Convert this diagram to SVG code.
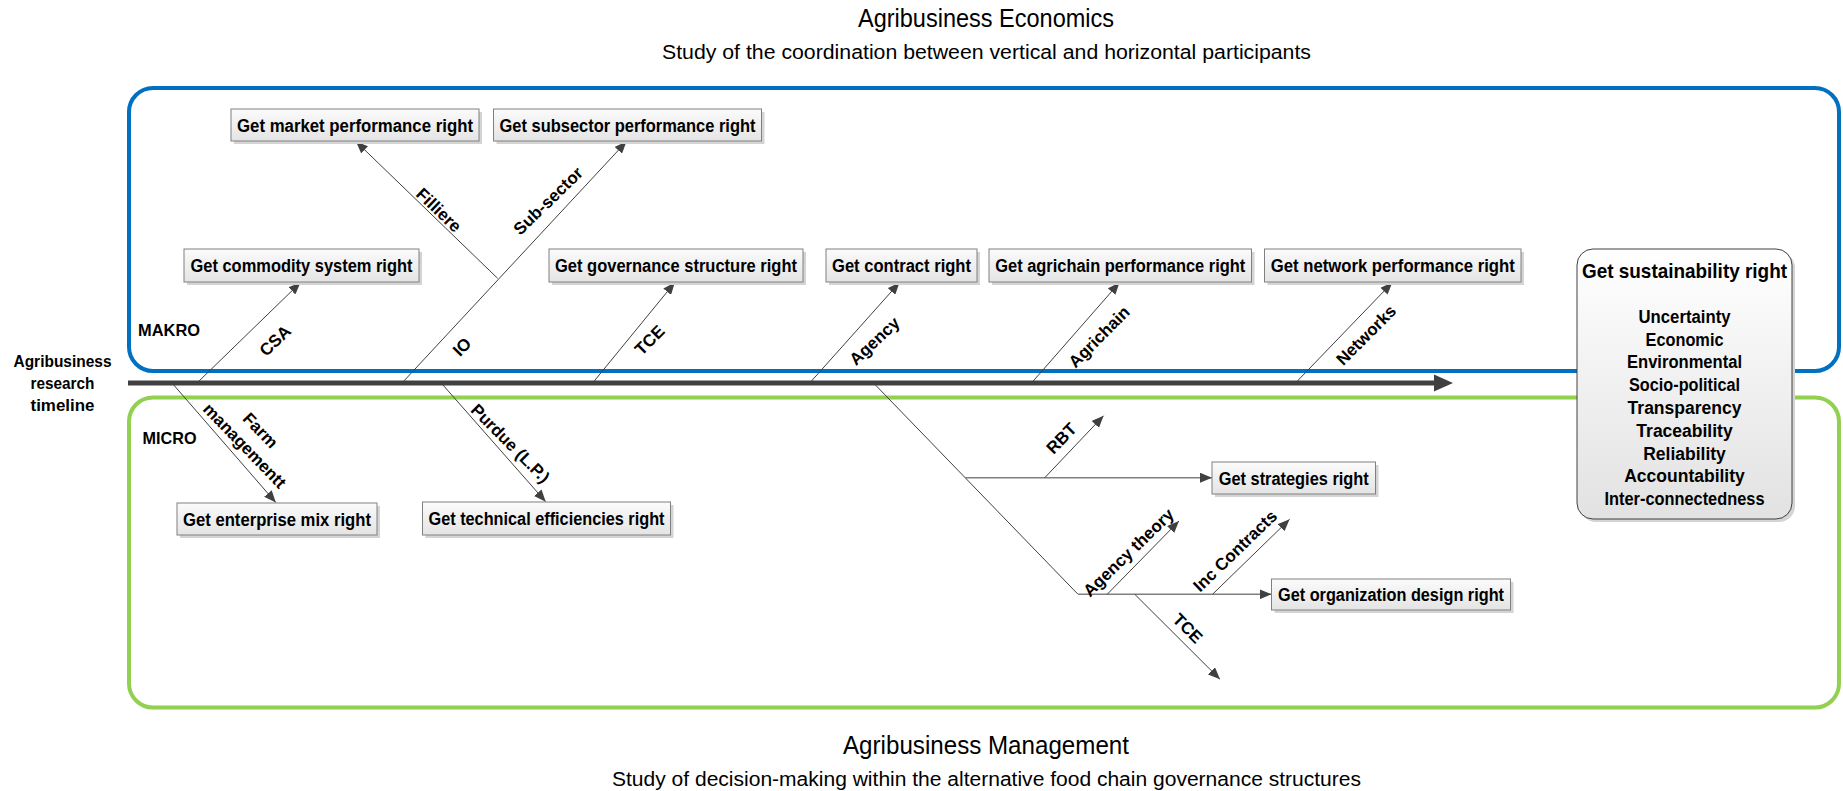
<svg xmlns="http://www.w3.org/2000/svg" width="1843" height="791" viewBox="0 0 1843 791">
<defs>
<linearGradient id="boxg" x1="0" y1="0" x2="0" y2="1"><stop offset="0" stop-color="#fbfbfb"/><stop offset="1" stop-color="#e4e4e4"/></linearGradient>
<linearGradient id="susg" x1="0" y1="0" x2="0" y2="1"><stop offset="0" stop-color="#ffffff"/><stop offset="1" stop-color="#e2e2e2"/></linearGradient>
<marker id="arr" viewBox="0 0 12 10" refX="12" refY="5" markerWidth="12" markerHeight="10" markerUnits="userSpaceOnUse" orient="auto"><path d="M0,0 L12,5 L0,10 z" fill="#404040"/></marker>
<style>
.t{font-family:"Liberation Sans",Arial,sans-serif;fill:#000}
.title{font-size:25px}
.sub{font-size:19.5px}
.nb{font-size:18px;font-weight:bold;text-anchor:middle}
.lb{font-size:17px;font-weight:bold;text-anchor:middle}
.box{fill:url(#boxg);stroke:#808080;stroke-width:1}
.sh{fill:#d4d4d4}
.ln{stroke:#404040;stroke-width:1;fill:none}
.la{stroke:#404040;stroke-width:1;fill:none;marker-end:url(#arr)}
.lg{stroke:#7f7f7f;stroke-width:1.6;fill:none}
.lga{stroke:#7f7f7f;stroke-width:1.6;fill:none;marker-end:url(#arr)}
</style>
</defs>
<rect width="1843" height="791" fill="#ffffff"/>

<g id="titles">
<text class="t title" x="986" y="27" text-anchor="middle" textLength="256" lengthAdjust="spacingAndGlyphs">Agribusiness Economics</text>
<text class="t sub" x="986.5" y="58.5" text-anchor="middle" textLength="649" lengthAdjust="spacingAndGlyphs">Study of the coordination between vertical and horizontal participants</text>
<text class="t title" x="986" y="753.5" text-anchor="middle" textLength="286" lengthAdjust="spacingAndGlyphs">Agribusiness Management</text>
<text class="t sub" x="986.5" y="785.5" text-anchor="middle" textLength="749" lengthAdjust="spacingAndGlyphs">Study of decision-making within the alternative food chain governance structures</text>
</g>

<g id="frames">
<rect id="makro-frame" x="129" y="88" width="1710" height="283" rx="24" fill="none" stroke="#0070c0" stroke-width="4"/>
<rect id="micro-frame" x="129" y="397.5" width="1710" height="310" rx="24" fill="none" stroke="#92d050" stroke-width="4"/>
<text class="t" x="138" y="336" font-size="16.5" font-weight="bold" textLength="62" lengthAdjust="spacingAndGlyphs">MAKRO</text>
<text class="t" x="142.5" y="443.5" font-size="16.5" font-weight="bold" textLength="54" lengthAdjust="spacingAndGlyphs">MICRO</text>
</g>

<g id="timeline-label">
<text class="t" x="62.5" y="366.5" font-size="17" font-weight="bold" text-anchor="middle" textLength="98" lengthAdjust="spacingAndGlyphs">Agribusiness</text>
<text class="t" x="62.5" y="388.5" font-size="17" font-weight="bold" text-anchor="middle" textLength="64" lengthAdjust="spacingAndGlyphs">research</text>
<text class="t" x="62.5" y="410.5" font-size="17" font-weight="bold" text-anchor="middle" textLength="64" lengthAdjust="spacingAndGlyphs">timeline</text>
</g>

<g id="connectors">
<line x1="128" y1="383" x2="1436" y2="383" stroke="#404040" stroke-width="5"/>
<polygon points="1434,374.5 1453,383 1434,391.5" fill="#404040"/>
<line class="la" x1="197" y1="383" x2="300.5" y2="282.5"/>
<line class="la" x1="402" y1="383" x2="626.5" y2="141.5"/>
<line class="la" x1="497.6" y1="278.3" x2="356" y2="141.5"/>
<line class="la" x1="592.6" y1="383" x2="674.8" y2="282.5"/>
<line class="la" x1="809.7" y1="383" x2="899.5" y2="282.5"/>
<line class="la" x1="1031.5" y1="383" x2="1119.5" y2="282.5"/>
<line class="la" x1="1295.5" y1="383" x2="1392.3" y2="282.5"/>
<line class="la" x1="172" y1="383" x2="275.8" y2="502.5"/>
<line class="la" x1="441.2" y1="383" x2="545.7" y2="501.7"/>
<line class="ln" x1="873.5" y1="383" x2="1078" y2="594.3"/>
<line class="lga" x1="965" y1="477.7" x2="1212" y2="477.7"/>
<line class="la" x1="1044.8" y1="477.7" x2="1103.6" y2="415.7"/>
<line class="lga" x1="1078" y1="594.3" x2="1271.5" y2="594.3"/>
<line class="la" x1="1107.2" y1="594.3" x2="1179" y2="521"/>
<line class="la" x1="1212.5" y1="594.3" x2="1289.6" y2="519.3"/>
<line class="la" x1="1134.8" y1="594.3" x2="1220" y2="679.3"/>
<g class="t">
<text class="lb" transform="translate(275,340.5) rotate(-44)" y="6">CSA</text>
<text class="lb" transform="translate(462,346.7) rotate(-46)" y="6">IO</text>
<text class="lb" transform="translate(439,210) rotate(44)" y="6">Filliere</text>
<text class="lb" transform="translate(548,200.8) rotate(-44)" y="6">Sub-sector</text>
<text class="lb" transform="translate(649.5,340) rotate(-45)" y="6">TCE</text>
<text class="lb" transform="translate(874.3,340.8) rotate(-43)" y="6">Agency</text>
<text class="lb" transform="translate(1099,336.7) rotate(-45)" y="6">Agrichain</text>
<text class="lb" transform="translate(1366,335) rotate(-45)" y="6">Networks</text>
<g transform="translate(252.7,437.9) rotate(46)">
<text class="lb" y="-5">Farm</text>
<text class="lb" y="17">managementt</text>
</g>
<text class="lb" transform="translate(510.5,443.3) rotate(45)" y="6">Purdue (L.P.)</text>
<text class="lb" transform="translate(1061.3,438.3) rotate(-46)" y="6">RBT</text>
<text class="lb" transform="translate(1128.3,552.5) rotate(-44)" y="6">Agency theory</text>
<text class="lb" transform="translate(1235,550.8) rotate(-44)" y="6">Inc Contracts</text>
<text class="lb" transform="translate(1187.8,628.3) rotate(45)" y="6">TCE</text>
</g>
</g>

<g id="n-market"><rect class="sh" x="234" y="112" width="248" height="32"/><rect class="box" x="231" y="109" width="248" height="32"/><text class="t nb" x="355" y="131.5" textLength="236" lengthAdjust="spacingAndGlyphs">Get market performance right</text></g>
<g id="n-subsector"><rect class="sh" x="496.5" y="112" width="268" height="32"/><rect class="box" x="493.5" y="109" width="268" height="32"/><text class="t nb" x="627.5" y="131.5" textLength="256" lengthAdjust="spacingAndGlyphs">Get subsector performance right</text></g>
<g id="n-commodity"><rect class="sh" x="187" y="252" width="235" height="33"/><rect class="box" x="184" y="249" width="235" height="33"/><text class="t nb" x="301.5" y="272" textLength="222" lengthAdjust="spacingAndGlyphs">Get commodity system right</text></g>
<g id="n-governance"><rect class="sh" x="552" y="252" width="254" height="33"/><rect class="box" x="549" y="249" width="254" height="33"/><text class="t nb" x="676" y="272" textLength="242" lengthAdjust="spacingAndGlyphs">Get governance structure right</text></g>
<g id="n-contract"><rect class="sh" x="829" y="252" width="151" height="33"/><rect class="box" x="826" y="249" width="151" height="33"/><text class="t nb" x="901.5" y="272" textLength="139" lengthAdjust="spacingAndGlyphs">Get contract right</text></g>
<g id="n-agrichain"><rect class="sh" x="992" y="252" width="262.5" height="33"/><rect class="box" x="989" y="249" width="262.5" height="33"/><text class="t nb" x="1120.25" y="272" textLength="250" lengthAdjust="spacingAndGlyphs">Get agrichain performance right</text></g>
<g id="n-network"><rect class="sh" x="1267.5" y="252" width="256.5" height="33"/><rect class="box" x="1264.5" y="249" width="256.5" height="33"/><text class="t nb" x="1392.75" y="272" textLength="244" lengthAdjust="spacingAndGlyphs">Get network performance right</text></g>
<g id="n-enterprise"><rect class="sh" x="180" y="506" width="200" height="32"/><rect class="box" x="177" y="503" width="200" height="32"/><text class="t nb" x="277" y="525.5" textLength="188" lengthAdjust="spacingAndGlyphs">Get enterprise mix right</text></g>
<g id="n-technical"><rect class="sh" x="425.5" y="505" width="248" height="33"/><rect class="box" x="422.5" y="502" width="248" height="33"/><text class="t nb" x="546.5" y="525" textLength="236" lengthAdjust="spacingAndGlyphs">Get technical efficiencies right</text></g>
<g id="n-strategies"><rect class="sh" x="1215" y="465" width="163.5" height="32"/><rect class="box" x="1212" y="462" width="163.5" height="32"/><text class="t nb" x="1293.75" y="484.5" textLength="150" lengthAdjust="spacingAndGlyphs">Get strategies right</text></g>
<g id="n-organization"><rect class="sh" x="1274.5" y="582" width="239" height="31"/><rect class="box" x="1271.5" y="579" width="239" height="31"/><text class="t nb" x="1391" y="601" textLength="226" lengthAdjust="spacingAndGlyphs">Get organization design right</text></g>

<g id="n-sustainability">
<rect x="1580" y="252" width="215" height="270" rx="16" fill="#d4d4d4"/>
<rect x="1577" y="249" width="215" height="270" rx="16" fill="url(#susg)" stroke="#404040" stroke-width="1"/>
<text class="t" x="1684.5" y="278" font-size="21" font-weight="bold" text-anchor="middle" textLength="205" lengthAdjust="spacingAndGlyphs">Get sustainability right</text>
<g class="t" font-size="17.5" font-weight="bold" text-anchor="middle">
<text x="1684.5" y="322.8" textLength="92" lengthAdjust="spacingAndGlyphs">Uncertainty</text>
<text x="1684.5" y="345.6" textLength="78" lengthAdjust="spacingAndGlyphs">Economic</text>
<text x="1684.5" y="368.4" textLength="115" lengthAdjust="spacingAndGlyphs">Environmental</text>
<text x="1684.5" y="391.2" textLength="111" lengthAdjust="spacingAndGlyphs">Socio-political</text>
<text x="1684.5" y="414">Transparency</text>
<text x="1684.5" y="436.8">Traceability</text>
<text x="1684.5" y="459.6">Reliability</text>
<text x="1684.5" y="482.4">Accountability</text>
<text x="1684.5" y="505.2" textLength="160" lengthAdjust="spacingAndGlyphs">Inter-connectedness</text>
</g>
</g>
</svg>
